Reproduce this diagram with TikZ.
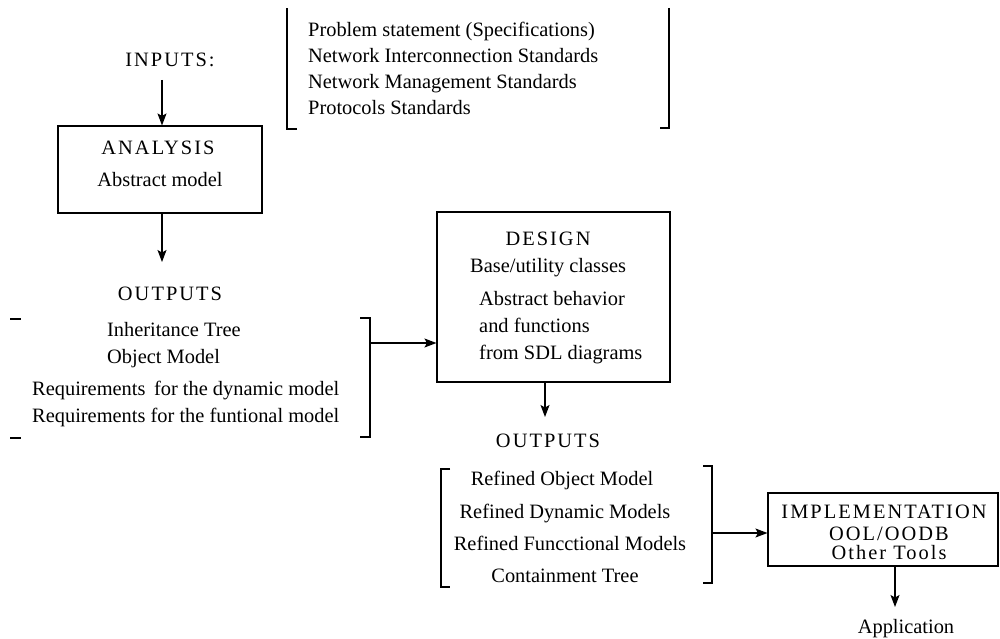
\documentclass[tikz,border=0pt]{standalone}
\usepackage{fontspec}
\setmainfont{Liberation Serif}
\newfontfamily\capsfont[LetterSpace=10]{Liberation Serif}
\usetikzlibrary{arrows.meta}
\begin{document}
\begin{tikzpicture}[x=1pt,y=-1pt,
  txt/.style={inner sep=0pt,anchor=base west,font=\fontsize{20.4}{24}\selectfont},
  ctxt/.style={inner sep=0pt,anchor=base,font=\fontsize{20.4}{24}\selectfont},
  captxt/.style={inner sep=0pt,anchor=base,font=\fontsize{20.4}{24}\selectfont\capsfont},
  box/.style={draw,line width=1.1pt,inner sep=0pt},
  brk/.style={line width=1.1pt},
  arr/.style={line width=1.1pt,-{Stealth[length=12pt,width=9pt,inset=2.5pt]}}]
\useasboundingbox (0,0) rectangle (1000,639);
% top input list
\draw[brk] (297,129) -- (287,129) -- (287,8);
\draw[brk] (669,8) -- (669,128) -- (660,128);
\node[txt] (p1) at (308,37) {Problem statement (Specifications)};
\node[txt] (p2) at (308,63) {Network Interconnection Standards};
\node[txt] (p3) at (308,89) {Network Management Standards};
\node[txt] (p4) at (308,115) {Protocols Standards};
% inputs and analysis
\node[captxt] (inputs) at (170,67) {INPUTS:};
\node[box,minimum width=204pt,minimum height=87pt] (analysis) at (160,169.5) {};
\node[captxt] (antitle) at (158,155) {ANALYSIS};
\node[ctxt] (anmodel) at (160,186) {Abstract model};
\coordinate (inA) at (162,80);
\draw[arr] (inA) -- (inA |- analysis.north);
\coordinate (anB) at (162,262);
\draw[arr] (anB |- analysis.south) -- (anB);
% outputs 1
\node[captxt] (out1) at (170,300) {OUTPUTS};
\node[txt] (o1) at (107,336) {Inheritance Tree};
\node[txt] (o2) at (107,363) {Object Model};
\node[txt] (o3) at (32,395) {Requirements\, for the dynamic model};
\node[txt] (o4) at (32,422) {Requirements for the funtional model};
\draw[brk] (10,319) -- (21,319);
\draw[brk] (10,438) -- (21,438);
\draw[brk] (360,318) -- (370,318) -- (370,437) -- (360,437);
\coordinate (b1) at (370,343);
% design
\node[box,minimum width=233pt,minimum height=170pt] (design) at (553.5,297) {};
\draw[arr] (b1) -- (b1 -| design.west);
\node[captxt] (dtitle) at (548,245) {DESIGN};
\node[txt] (d1) at (470,272) {Base/utility classes};
\node[txt] (d2) at (479,305) {Abstract behavior};
\node[txt] (d3) at (479,332) {and functions};
\node[txt] (d4) at (479,359) {from SDL diagrams};
\coordinate (dB) at (545,417);
\draw[arr] (dB |- design.south) -- (dB);
% outputs 2
\node[captxt] (out2) at (548,447) {OUTPUTS};
\draw[brk] (450,469) -- (441,469) -- (441,587) -- (450,587);
\draw[brk] (703,466) -- (712,466) -- (712,583) -- (703,583);
\node[ctxt] (r1) at (562,485) {Refined Object Model};
\node[ctxt] (r2) at (565,518) {Refined Dynamic Models};
\node[ctxt] (r3) at (570,550) {Refined Funcctional Models};
\node[ctxt] (r4) at (565,582) {Containment Tree};
\coordinate (b2) at (712,533);
% implementation
\node[box,minimum width=230pt,minimum height=73pt] (impl) at (883,529.5) {};
\draw[arr] (b2) -- (b2 -| impl.west);
\node[captxt] (i1) at (884,518) {IMPLEMENTATION};
\node[captxt] (i2) at (889,540) {OOL/OODB};
\node[captxt] (i3) at (889,559) {Other Tools};
\coordinate (iB) at (895,607);
\draw[arr] (iB |- impl.south) -- (iB);
\node[ctxt] (app) at (906,633) {Application};
\end{tikzpicture}
\end{document}
